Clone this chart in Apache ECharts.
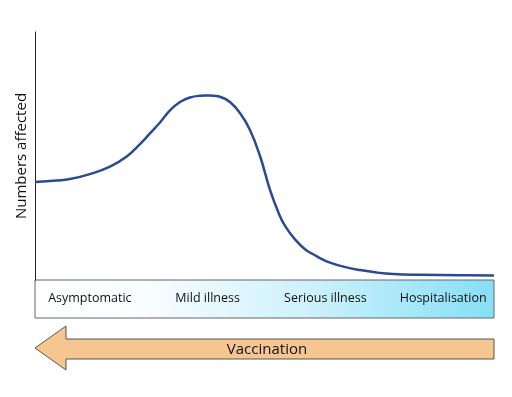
<!DOCTYPE html>
<html><head><meta charset="utf-8">
<script src="https://cdn.jsdelivr.net/npm/echarts@6/dist/echarts.min.js"></script>
<style>html,body{margin:0;padding:0;background:#fff}#c{width:512px;height:397px}</style>
</head><body><div id="c"></div>
<script>
const stages = ['Asymptomatic', 'Mild illness', 'Serious illness', 'Hospitalisation'];
const curveX = [0, 3.27, 7.63, 11.98, 16.34, 19.98, 22.88, 25.05, 27.23, 29.41, 31.59, 33.77, 35.95, 38.13, 40.31, 42.48, 44.66, 46.84, 49.02, 51.2, 53.01, 54.47, 56.64, 58.82, 61.0, 62.09, 64.27, 67.17, 70.81, 74.44, 78.06, 83.88, 92.59, 100];
const curveY = [39.5, 39.9, 40.7, 42.7, 45.7, 49.8, 54.8, 59.1, 63.5, 68.4, 71.8, 73.6, 74.3, 74.35, 73.9, 71.8, 67.3, 60.5, 50.0, 36.3, 27.3, 21.8, 16.4, 12.4, 10.0, 8.8, 7.0, 5.4, 4.0, 3.0, 2.4, 2.1, 1.9, 1.8];
const yTitle = 'Numbers affected';
const arrowLabel = 'Vaccination';

const chart = echarts.init(document.getElementById('c'));
const F = 'Open Sans';
const L = 35, R = 494, T = 32, B = 280;
const curveData = curveX.map((x, i) => [x, curveY[i]]);
chart.setOption({
  animation: false,
  grid: [
    { left: L, right: 512 - R, top: T, bottom: 397 - B },
    { left: 31, right: 10, top: T, bottom: 397 - B }
  ],
  xAxis: [
    { type: 'value', min: 0, max: 100, show: false, gridIndex: 0 },
    { type: 'category', data: stages, position: 'bottom', boundaryGap: true, gridIndex: 1,
      axisLine: { show: false }, axisTick: { show: false }, splitLine: { show: false },
      axisLabel: { margin: 12, fontFamily: F, fontSize: 12.5, color: '#111', interval: 0 } }
  ],
  yAxis: [{
    type: 'value', min: 0, max: 100, gridIndex: 0,
    name: yTitle, nameLocation: 'middle', nameGap: 6,
    nameTextStyle: { fontFamily: F, fontSize: 15, color: '#111' },
    axisLine: { show: true, lineStyle: { color: '#222', width: 1 } },
    axisTick: { show: false }, axisLabel: { show: false }, splitLine: { show: false }
  }, { type: 'value', gridIndex: 1, show: false }],
  graphic: [
    { type: 'rect', z: -1, shape: { x: L, y: B, width: R - L, height: 38 },
      style: { fill: new echarts.graphic.LinearGradient(0, 0, 1, 0, [
        { offset: 0, color: '#ffffff' }, { offset: 0.22, color: '#fbfeff' },
        { offset: 0.6, color: '#cdf1fb' }, { offset: 1, color: '#86dff6' }]),
        stroke: '#666', lineWidth: 1 } },
    { type: 'polygon', shape: { points: [[35, 348], [66, 326], [66, 339], [494, 339], [494, 359], [66, 359], [66, 370]] },
      style: { fill: '#f5c690', stroke: '#555', lineWidth: 1 } },
    { type: 'text', style: { x: 267, y: 350, text: arrowLabel, align: 'center', verticalAlign: 'middle',
      font: '15px "Open Sans"', fill: '#111' } }
  ],
  series: [{
    type: 'custom', xAxisIndex: 0, yAxisIndex: 0, coordinateSystem: 'cartesian2d',
    encode: { x: 0, y: 1 },
    data: curveData,
    renderItem: function (params, api) {
      if (params.dataIndex !== 0) return null;
      const pts = curveData.map(d => api.coord(d));
      return { type: 'polyline', shape: { points: pts, smooth: 0.45 },
        style: { stroke: '#2b4a8f', lineWidth: 2.5, fill: null, lineJoin: 'round' } };
    }
  }]
});
</script></body></html>
